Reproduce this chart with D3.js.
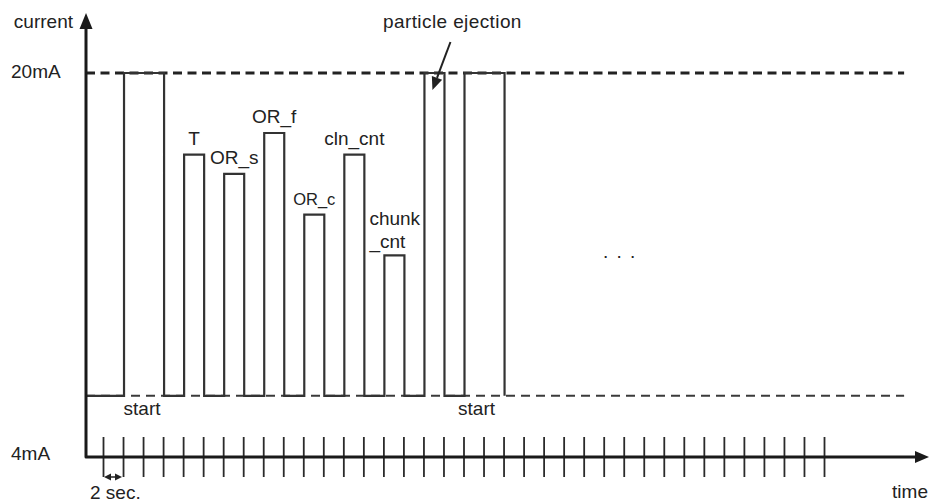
<!DOCTYPE html>
<html>
<head>
<meta charset="utf-8">
<script src="https://cdn.jsdelivr.net/npm/d3@7"></script>
<style>
  body { margin: 0; background: #fff; }
  svg { display: block; }
  text { font-family: "Liberation Sans", Arial, sans-serif; fill: #222; }
</style>
</head>
<body>
<div id="chart"></div>
<script>
// pulse sequence (time in seconds, level in mA)
const pulseNames = ["start", "T", "OR_s", "OR_f", "OR_c", "cln_cnt", "chunk_cnt", "particle ejection", "start"];
const pulseStart = [2, 8, 12, 16, 20, 24, 28, 32, 36];
const pulseEnd   = [6, 10, 14, 18, 22, 26, 30, 34, 40];
const pulseLevel = [20, 16.6, 15.8, 17.5, 14.1, 16.6, 12.4, 20, 20];
const lowLevel = 6.55;

// labels printed over the small pulses
const tagLines = [[], ["T"], ["OR_s"], ["OR_f"], ["OR_c"], ["cln_cnt"], ["chunk", "_cnt"], [], []];

const levelTicks = [20, 4];
const levelLabels = ["20mA", "4mA"];
const startLabelTimes = [3.9, 37.3];
const tickStep = 2, tickLast = 72;

const width = 930, height = 503;

const svg = d3.select("#chart").append("svg")
  .attr("width", width)
  .attr("height", height);

const x = d3.scaleLinear().domain([0, tickLast]).range([103, 824]);
const y = d3.scaleLinear().domain([4, 20]).range([457, 73]);

const x0 = 86;          // where the current axis stands
const xEnd = 929;       // tip of the time arrow
const xRef = x(80);     // end of the dashed reference lines

// dashed reference lines: 20mA level and the low level
svg.append("line")
  .attr("x1", x0).attr("x2", xRef)
  .attr("y1", y(20)).attr("y2", y(20))
  .attr("stroke", "#222").attr("stroke-width", 3)
  .attr("stroke-dasharray", "9,5.5");

svg.append("line")
  .attr("x1", x0).attr("x2", xRef)
  .attr("y1", y(lowLevel)).attr("y2", y(lowLevel))
  .attr("stroke", "#3a3a3a").attr("stroke-width", 2)
  .attr("stroke-dasharray", "9,6");

// the signal as one step path
const pts = [[x.invert(x0), lowLevel]];
pulseStart.forEach((s, i) => {
  pts.push([s, lowLevel], [s, pulseLevel[i]], [pulseEnd[i], pulseLevel[i]], [pulseEnd[i], lowLevel]);
});

const line = d3.line()
  .x(d => x(d[0]) + 1)
  .y(d => y(d[1]));

svg.append("path")
  .datum(pts)
  .attr("d", line)
  .attr("fill", "none")
  .attr("stroke", "#333")
  .attr("stroke-width", 2.2)
  .attr("stroke-linejoin", "miter");

// tags above the pulses
tagLines.forEach((lines, i) => {
  if (!lines.length) return;
  const mid = x((pulseStart[i] + pulseEnd[i]) / 2) + 1;
  const top = y(pulseLevel[i]);
  if (lines.length === 1) {
    svg.append("text")
      .attr("x", mid)
      .attr("y", top - 10)
      .attr("text-anchor", "middle")
      .attr("font-size", lines[0] === "OR_c" ? 16.5 : 19)
      .text(lines[0]);
  } else {
    lines.forEach((t, k) => {
      svg.append("text")
        .attr("x", mid - 25)
        .attr("y", top - 30 + k * 23)
        .attr("font-size", 19)
        .text(t);
    });
  }
});

// "start" under the start pulses
svg.selectAll(".start-label")
  .data(startLabelTimes)
  .enter().append("text")
  .attr("class", "start-label")
  .attr("x", d => x(d))
  .attr("y", y(lowLevel) + 19)
  .attr("text-anchor", "middle")
  .attr("font-size", 19)
  .text("start");

// particle ejection note with arrow
const pe = pulseNames.indexOf("particle ejection");
const tipX = x(pulseStart[pe]) + 9, tipY = y(20) + 17;
const tailX = tipX + 18, tailY = y(20) - 31;
svg.append("text")
  .attr("x", tailX + 2)
  .attr("y", 28)
  .attr("text-anchor", "middle")
  .attr("font-size", 19)
  .attr("letter-spacing", 0.4)
  .text("particle ejection");

const ang = Math.atan2(tipY - tailY, tipX - tailX);
const headLen = 13, headW = 5.5;
const bx = tipX - headLen * Math.cos(ang), by = tipY - headLen * Math.sin(ang);
svg.append("line")
  .attr("x1", tailX).attr("y1", tailY)
  .attr("x2", bx).attr("y2", by)
  .attr("stroke", "#222").attr("stroke-width", 2);
svg.append("path")
  .attr("d", `M${tipX},${tipY} L${bx + headW * Math.sin(ang)},${by - headW * Math.cos(ang)} L${bx - headW * Math.sin(ang)},${by + headW * Math.cos(ang)} Z`)
  .attr("fill", "#222");

// continuation dots
svg.append("text")
  .attr("x", 603)
  .attr("y", 258)
  .attr("font-size", 19)
  .attr("letter-spacing", 8.2)
  .text("...");

// time ticks (no labels)
const tickAxis = d3.axisBottom(x)
  .tickValues(d3.range(0, tickLast + 1, tickStep))
  .tickSize(40)
  .tickFormat("");

const gTicks = svg.append("g")
  .attr("transform", `translate(0, ${y(4) - 20})`)
  .call(tickAxis);
gTicks.select(".domain").remove();
gTicks.selectAll(".tick line")
  .attr("stroke", "#2a2a2a")
  .attr("stroke-width", 1.8);

// axes: current (up) and time (right), joined at the corner
svg.append("path")
  .attr("d", `M${xEnd - 10},${y(4)} L${x0},${y(4)} L${x0},27`)
  .attr("fill", "none")
  .attr("stroke", "#1a1a1a")
  .attr("stroke-width", 3)
  .attr("stroke-linejoin", "round");

svg.append("path")
  .attr("d", `M${x0},13 L${x0 - 6.5},29 L${x0 + 6.5},29 Z`)
  .attr("fill", "#1a1a1a");
svg.append("path")
  .attr("d", `M${xEnd},${y(4)} L${xEnd - 14},${y(4) - 6} L${xEnd - 14},${y(4) + 6} Z`)
  .attr("fill", "#1a1a1a");

// level labels on the left
svg.selectAll(".level-label")
  .data(levelTicks)
  .enter().append("text")
  .attr("class", "level-label")
  .attr("x", 11)
  .attr("y", d => y(d) + (d === 4 ? 3 : 5))
  .attr("font-size", 19)
  .text((d, i) => levelLabels[i]);

svg.append("text")
  .attr("x", 73)
  .attr("y", 28)
  .attr("text-anchor", "end")
  .attr("font-size", 19)
  .text("current");

svg.append("text")
  .attr("x", 928)
  .attr("y", 498)
  .attr("text-anchor", "end")
  .attr("font-size", 19)
  .text("time");

// "2 sec." span marker between the first two ticks
const secY = y(4) + 20;
const a0 = x(0) + 1, a1 = x(tickStep) - 1;
svg.append("line")
  .attr("x1", a0 + 5).attr("x2", a1 - 5)
  .attr("y1", secY).attr("y2", secY)
  .attr("stroke", "#222").attr("stroke-width", 1.5);
svg.append("path")
  .attr("d", `M${a0},${secY} L${a0 + 7},${secY - 3.5} L${a0 + 7},${secY + 3.5} Z M${a1},${secY} L${a1 - 7},${secY - 3.5} L${a1 - 7},${secY + 3.5} Z`)
  .attr("fill", "#222");

svg.append("text")
  .attr("x", 90)
  .attr("y", 499)
  .attr("font-size", 19)
  .text("2 sec.");
</script>
</body>
</html>
